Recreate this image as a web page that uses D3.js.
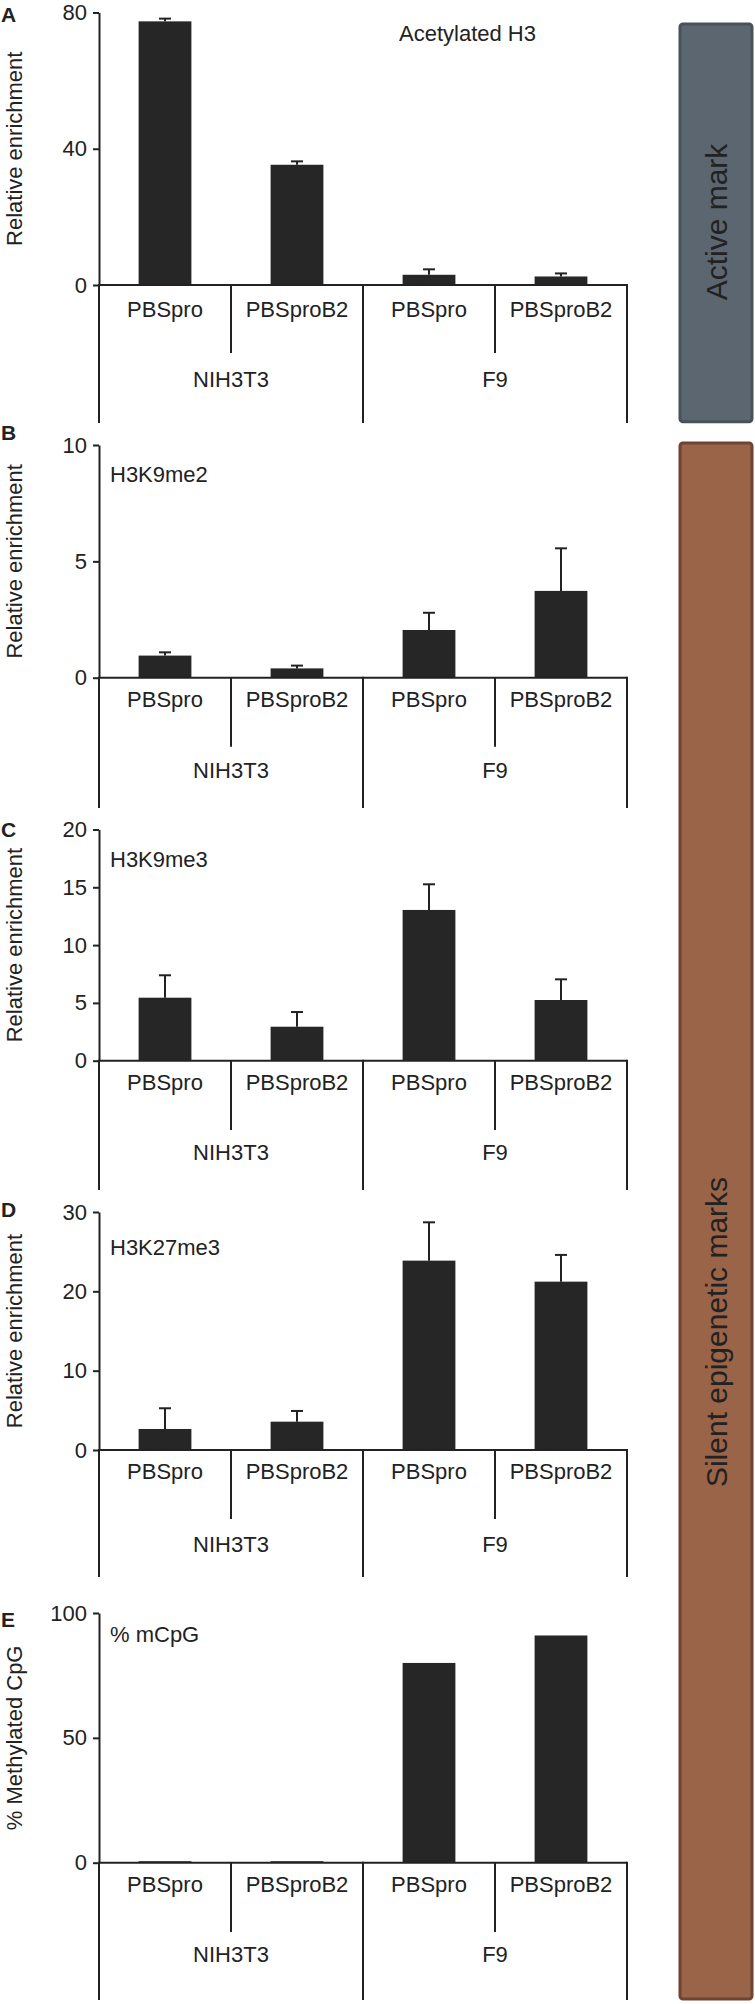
<!DOCTYPE html>
<html>
<head>
<meta charset="utf-8">
<script src="https://cdn.jsdelivr.net/npm/d3@7"></script>
<style>
  html, body { margin: 0; padding: 0; background: #fff; }
  svg { display: block; }
  text { font-family: "Liberation Sans", Arial, Helvetica, sans-serif; fill: #222; }
</style>
</head>
<body>
<svg id="chart" width="755" height="2004"></svg>
<script>
// ---------------- data ----------------
const cellLines = ["NIH3T3", "F9"];
const constructs = ["PBSpro", "PBSproB2"];
const panelLetters = ["A", "B", "C", "D", "E"];
const panelTitles = ["Acetylated H3", "H3K9me2", "H3K9me3", "H3K27me3", "% mCpG"];
const yLabels = ["Relative enrichment", "Relative enrichment", "Relative enrichment", "Relative enrichment", "% Methylated CpG"];
const yMax = [80, 10, 20, 30, 100];
const yTicks = [[0, 40, 80], [0, 5, 10], [0, 5, 10, 15, 20], [0, 10, 20, 30], [0, 50, 100]];
// values in order: NIH3T3 PBSpro, NIH3T3 PBSproB2, F9 PBSpro, F9 PBSproB2
const valuesA = [77.4, 35.3, 3.0, 2.5];
const errorsA = [0.8, 1.0, 1.6, 0.9];
const valuesB = [0.95, 0.40, 2.05, 3.73];
const errorsB = [0.14, 0.12, 0.74, 1.83];
const valuesC = [5.45, 2.94, 13.04, 5.25];
const errorsC = [1.94, 1.27, 2.22, 1.79];
const valuesD = [2.65, 3.57, 23.87, 21.22];
const errorsD = [2.61, 1.35, 4.83, 3.37];
const valuesE = [0.6, 0.6, 80, 91];
const errorsE = null;
const sideLabels = ["Active mark", "Silent epigenetic marks"];

const panelValues = [valuesA, valuesB, valuesC, valuesD, valuesE];
const panelErrors = [errorsA, errorsB, errorsC, errorsD, errorsE];

// ---------------- layout ----------------
const layout = [
  { top: 12.5, zero: 285,   label: 317,  divider: 353,  group: 387,  end: 423,  title: 40.7,  titleX: 399, letter: 22 },
  { top: 445,  zero: 677.7, label: 706.7, divider: 746.7, group: 778, end: 808, title: 481.7, titleX: 110, letter: 440 },
  { top: 829.5, zero: 1060.7, label: 1090, divider: 1130, group: 1160, end: 1190, title: 866.7, titleX: 110, letter: 837 },
  { top: 1212, zero: 1450, label: 1479, divider: 1519, group: 1552, end: 1577, title: 1255, titleX: 110, letter: 1217 },
  { top: 1613, zero: 1862.7, label: 1892, divider: 1932, group: 1962, end: 2000, title: 1641.7, titleX: 110, letter: 1627 }
];
const xLeft = 99, xRight = 627;
const lineColor = "#222";
const barColor = "#262626";

const svg = d3.select("#chart");

const cats = [];
cellLines.forEach(c => constructs.forEach(k => cats.push(c + "|" + k)));

const x = d3.scaleBand().domain(cats).range([xLeft, xRight]).paddingInner(0.6).paddingOuter(0.3);
const xGroup = d3.scaleBand().domain(cellLines).range([xLeft, xRight]).padding(0);

layout.forEach((L, i) => {
  const g = svg.append("g");
  const y = d3.scaleLinear().domain([0, yMax[i]]).range([L.zero, L.top]);

  // bars
  const vals = panelValues[i];
  const errs = panelErrors[i];
  g.selectAll("rect.bar").data(cats).join("rect")
    .attr("class", "bar")
    .attr("x", d => x(d))
    .attr("width", x.bandwidth())
    .attr("y", (d, j) => y(vals[j]))
    .attr("height", (d, j) => y(0) - y(vals[j]))
    .attr("fill", barColor);

  // error bars
  if (errs) {
    const eg = g.selectAll("g.err").data(cats).join("g").attr("class", "err");
    eg.append("line")
      .attr("x1", d => x(d) + x.bandwidth() / 2)
      .attr("x2", d => x(d) + x.bandwidth() / 2)
      .attr("y1", (d, j) => y(vals[j]))
      .attr("y2", (d, j) => y(vals[j] + errs[j]))
      .attr("stroke", lineColor).attr("stroke-width", 2);
    eg.append("line")
      .attr("x1", d => x(d) + x.bandwidth() / 2 - 6)
      .attr("x2", d => x(d) + x.bandwidth() / 2 + 6)
      .attr("y1", (d, j) => y(vals[j] + errs[j]))
      .attr("y2", (d, j) => y(vals[j] + errs[j]))
      .attr("stroke", lineColor).attr("stroke-width", 2);
  }

  // y axis
  const ax = g.append("g").attr("transform", `translate(${xLeft},0)`)
    .call(d3.axisLeft(y).tickValues(yTicks[i]).tickSize(6).tickSizeOuter(0).tickPadding(6).tickFormat(d3.format("d")));
  ax.select(".domain").attr("stroke", lineColor).attr("stroke-width", 2);
  ax.selectAll(".tick line").attr("stroke", lineColor).attr("stroke-width", 2);
  ax.selectAll(".tick text").attr("font-size", 22).attr("fill", "#222")
    .attr("font-family", "'Liberation Sans', Arial, sans-serif");

  // horizontal base line
  g.append("line").attr("x1", xLeft).attr("x2", xRight).attr("y1", y(0)).attr("y2", y(0))
    .attr("stroke", lineColor).attr("stroke-width", 2);

  // group verticals (left, middle, right)
  const bounds = [xGroup(cellLines[0]), xGroup(cellLines[1]), xGroup(cellLines[1]) + xGroup.bandwidth()];
  g.selectAll("line.gv").data(bounds).join("line").attr("class", "gv")
    .attr("x1", d => d).attr("x2", d => d)
    .attr("y1", y(0) - 1).attr("y2", L.end)
    .attr("stroke", lineColor).attr("stroke-width", 2);

  // construct dividers within each group
  g.selectAll("line.dv").data(cellLines).join("line").attr("class", "dv")
    .attr("x1", d => xGroup(d) + xGroup.bandwidth() / 2)
    .attr("x2", d => xGroup(d) + xGroup.bandwidth() / 2)
    .attr("y1", y(0)).attr("y2", L.divider)
    .attr("stroke", lineColor).attr("stroke-width", 2);

  // construct labels
  g.selectAll("text.cl").data(cats).join("text").attr("class", "cl")
    .attr("x", d => x(d) + x.bandwidth() / 2)
    .attr("y", L.label)
    .attr("text-anchor", "middle").attr("font-size", 22)
    .text(d => d.split("|")[1]);

  // cell line labels
  g.selectAll("text.gl").data(cellLines).join("text").attr("class", "gl")
    .attr("x", d => xGroup(d) + xGroup.bandwidth() / 2)
    .attr("y", L.group)
    .attr("text-anchor", "middle").attr("font-size", 22)
    .text(d => d);

  // title
  g.append("text").attr("x", L.titleX).attr("y", L.title).attr("font-size", 22).text(panelTitles[i]);

  // y label
  g.append("text")
    .attr("transform", `translate(22,${(L.top + L.zero) / 2}) rotate(-90)`)
    .attr("text-anchor", "middle").attr("font-size", 22)
    .text(yLabels[i]);

  // panel letter
  g.append("text").attr("x", 1).attr("y", L.letter)
    .attr("font-family", "'Liberation Serif', 'DejaVu Serif', serif")
    .attr("font-weight", "bold").attr("font-size", 21)
    .text(panelLetters[i]);
});

// side boxes
const boxes = [
  { y0: 23, y1: 422.7, fill: "#5b6670", stroke: "#47525a", textY: 222 },
  { y0: 442, y1: 2000, fill: "#9a6448", stroke: "#6f4330", textY: 1332 }
];
boxes.forEach((b, i) => {
  svg.append("rect").attr("x", 680).attr("y", b.y0 + 1).attr("width", 72).attr("height", b.y1 - b.y0 - 2)
    .attr("rx", 3).attr("fill", b.fill).attr("stroke", b.stroke).attr("stroke-width", 3);
  svg.append("text")
    .attr("transform", `translate(727,${b.textY}) rotate(-90)`)
    .attr("text-anchor", "middle").attr("font-size", 30).attr("fill", "#2a2a2a")
    .text(sideLabels[i]);
});
</script>
</body>
</html>
